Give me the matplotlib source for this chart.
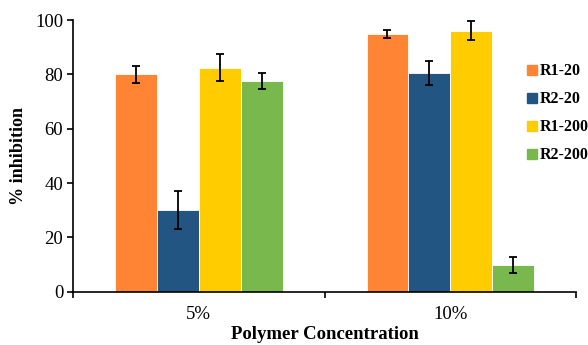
import numpy as np
import matplotlib
matplotlib.use("Agg")
import matplotlib.pyplot as plt
from matplotlib.lines import Line2D

# data
groups = ["5%", "10%"]
series = ["R1-20", "R2-20", "R1-200", "R2-200"]
r1_20 = [80, 95]
r2_20 = [30, 80.5]
r1_200 = [82.5, 96]
r2_200 = [77.5, 10]
err_r1_20 = [3, 1.5]
err_r2_20 = [7, 4.5]
err_r1_200 = [5, 3.5]
err_r2_200 = [3, 3]

colors = ["#FF8534", "#225582", "#FFCC00", "#78B84C"]

plt.rcParams['font.family'] = ['Liberation Serif', 'DejaVu Serif']

fig = plt.figure(figsize=(5.88, 3.45), dpi=100)
ax = fig.add_axes([0.124, 0.154, 0.856, 0.788])

x = np.arange(len(groups))
w = 0.1667
vals = [r1_20, r2_20, r1_200, r2_200]
errs = [err_r1_20, err_r2_20, err_r1_200, err_r2_200]
for i in range(4):
	pos = x + (i - 1.5) * w
	ax.bar(pos, vals[i], width=w, color=colors[i], edgecolor="white",
		   linewidth=0.6, zorder=2)
	ax.errorbar(pos, vals[i], yerr=errs[i], fmt="none", ecolor="black",
				elinewidth=1.3, capsize=2.8, capthick=1.3, zorder=3)

ax.set_xlim(-0.5, 1.5)
ax.set_ylim(0, 100)
ax.set_yticks([0, 20, 40, 60, 80, 100])
ax.set_xticks(x)
ax.set_xticklabels(groups)
ax.set_xticks([-0.5, 0.5, 1.5], minor=True)
ax.tick_params(axis="x", which="major", length=0, pad=10, labelsize=13.5)
ax.tick_params(axis="x", which="minor", length=4, width=1.2, direction="out")
ax.tick_params(axis="y", length=4, width=1.2, labelsize=13.5, pad=3)

for s in ["top", "right"]:
	ax.spines[s].set_visible(False)
ax.spines["left"].set_linewidth(1.2)
ax.spines["bottom"].set_linewidth(1.2)

ax.set_ylabel("% inhibition", fontsize=13, fontweight="bold", labelpad=6)
ax.set_xlabel("Polymer Concentration", fontsize=13.5, fontweight="bold", labelpad=2)

handles = [Line2D([], [], marker="s", linestyle="none", markersize=6.5,
				  markerfacecolor=c, markeredgecolor=c) for c in colors]
fig.legend(handles, series, loc="upper left", bbox_to_anchor=(0.882, 0.84),
		   frameon=False, borderpad=0, handletextpad=0.1, handlelength=0.7,
		   labelspacing=0.75, prop={"weight": "bold", "size": 11.5})

fig.savefig("out.png", dpi=100)
